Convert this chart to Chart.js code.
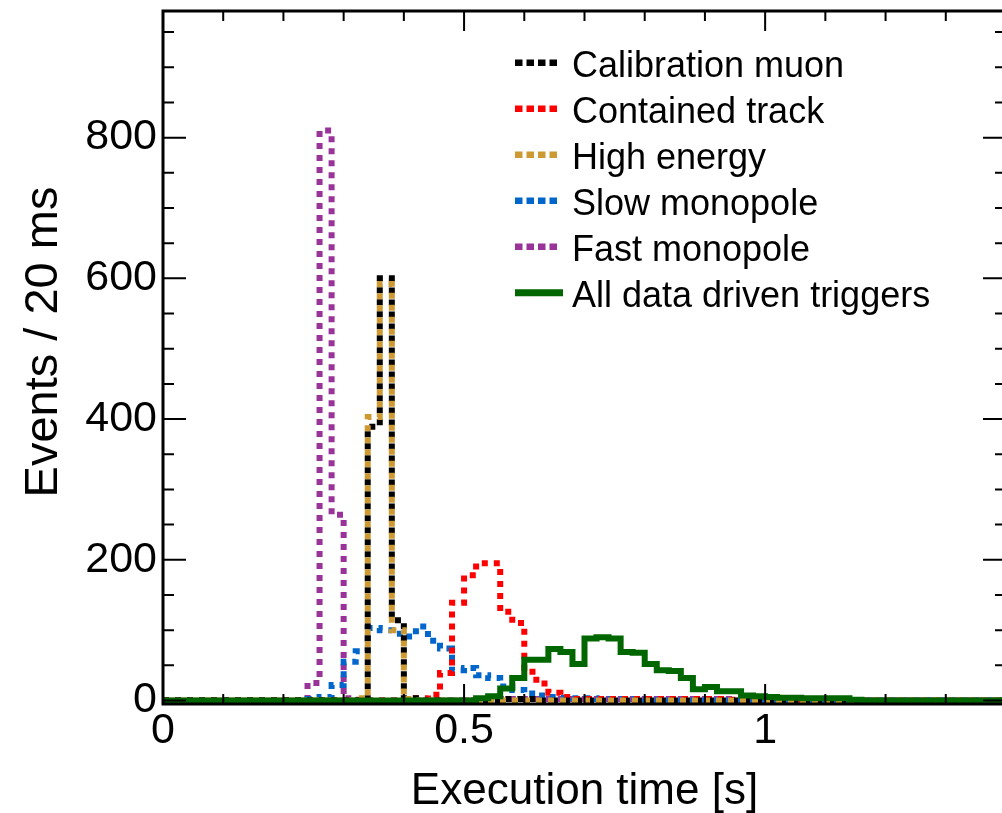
<!DOCTYPE html>
<html>
<head>
<meta charset="utf-8">
<script src="https://cdn.jsdelivr.net/npm/chart.js@4.4.0/dist/chart.umd.min.js"></script>
<style>
html,body{margin:0;padding:0;background:#fff;overflow:hidden;width:1002px;height:813px}
canvas{display:block}
</style>
</head>
<body>
<canvas id="c" width="1010" height="813" style="width:1010px;height:813px"></canvas>
<script>
// ---- data (20 ms bins, lower edges + final upper edge) ----
const binEdges = [
  0.00,0.02,0.04,0.06,0.08,0.10,0.12,0.14,0.16,0.18,
  0.20,0.22,0.24,0.26,0.28,0.30,0.32,0.34,0.36,0.38,
  0.40,0.42,0.44,0.46,0.48,0.50,0.52,0.54,0.56,0.58,
  0.60,0.62,0.64,0.66,0.68,0.70,0.72,0.74,0.76,0.78,
  0.80,0.82,0.84,0.86,0.88,0.90,0.92,0.94,0.96,0.98,
  1.00,1.02,1.04,1.06,1.08,1.10,1.12,1.14,1.16,1.18,
  1.20,1.22,1.24,1.26,1.28,1.30,1.32,1.34,1.36,1.38,
  1.40
];
const calibrationMuon = [
  0,0,0,0,0,0,0,0,0,0,
  0,0,0,0,0,0,0,389,600,114,
  3,0,0,0,0,0,0,0,2,2,
  2,0,0,0,0,0,0,0,0,0,
  0,0,0,0,0,0,0,0,0,0,
  0,0,0,0,0,0,0,0,0,0,
  0,0,0,0,0,0,0,0,0,0
];
const containedTrack = [
  0,0,0,0,0,0,0,0,0,0,
  0,0,0,0,0,0,0,0,0,0,
  0,3,8,39,139,178,195,195,126,110,
  41,24,11,5,2,2,2,2,2,2,
  2,2,2,2,2,2,2,1,1,1,
  1,1,1,0,0,0,0,0,0,0,
  0,0,0,0,0,0,0,0,0,0
];
const highEnergy = [
  0,0,0,0,0,0,0,0,0,0,
  0,0,0,0,0,0,3,403,592,100,
  2,0,0,0,0,0,0,0,0,0,
  0,0,0,0,0,0,0,0,0,0,
  0,0,0,0,0,0,0,0,0,0,
  0,0,0,0,0,0,0,0,0,0,
  0,0,0,0,0,0,0,0,0,0
];
const slowMonopole = [
  0,0,0,0,0,0,0,0,0,0,
  0,0,2,5,22,55,70,103,100,95,
  91,105,85,74,43,46,36,32,20,15,
  10,7,5,4,3,3,2,2,2,2,
  1,0,0,0,0,0,0,0,0,0,
  0,0,0,0,0,0,0,0,0,0,
  0,0,0,0,0,0,0,0,0,0
];
const fastMonopole = [
  0,0,0,0,0,0,0,0,0,0,
  0,0,25,810,264,3,1,0,0,0,
  0,0,0,0,0,0,0,0,2,2,
  2,2,2,2,2,2,2,2,2,2,
  2,2,2,2,2,2,2,0,0,0,
  0,0,0,0,0,0,0,0,0,0,
  0,0,0,0,0,0,0,0,0,0
];
const allTriggers = [
  0,0,0,0,0,0,0,0,0,0,
  0,0,0,0,0,0,0,0,0,0,
  0,0,0,0,0,0,3,6,17,32,
  58,58,73,69,52,88,90,88,69,68,
  52,43,42,32,16,19,13,13,7,6,
  5,4,4,3,3,3,3,1,0,0,
  0,0,0,0,0,0,0,0,0,0
];
const xTickLabels = [0, 0.5, 1];
const yTickLabels = [0, 200, 400, 600, 800];
const xTitle = 'Execution time [s]';
const yTitle = 'Events / 20 ms';

// ---- styles ----
const FONT = "'Liberation Sans', Arial, Helvetica, sans-serif";
const series = [
  {label:'Calibration muon',         values: calibrationMuon, color:'#000000', dash:[6,6], off:0, width:6, order:2},
  {label:'Contained track',          values: containedTrack,  color:'#ff0000', dash:[6,6], off:0, width:6, order:3},
  {label:'High energy',              values: highEnergy,      color:'#cc9933', dash:[6,6], off:6, width:6, order:1},
  {label:'Slow monopole',            values: slowMonopole,    color:'#0066cc', dash:[6,6], off:0, width:6, order:4},
  {label:'Fast monopole',            values: fastMonopole,    color:'#993399', dash:[6,6], off:0, width:6, order:5},
  {label:'All data driven triggers', values: allTriggers,     color:'#006600', dash:[],    off:0, width:6, order:0}
];

const framePlugin = {
  id: 'frame',
  afterDatasetsDraw(chart) {
    const {ctx, chartArea: a, scales} = chart;
    const x = scales.x, y = scales.y;
    ctx.save();
    ctx.strokeStyle = '#000';
    ctx.setLineDash([]);
    ctx.lineCap = 'butt';
    ctx.lineWidth = 2;
    ctx.beginPath();
    for (let k = 0; k <= 14; k++) {
      const v = k / 10;
      const px = x.getPixelForValue(v);
      const major = xTickLabels.some(t => Math.abs(t - v) < 1e-9);
      const len = major ? 20 : 10;
      ctx.moveTo(px, a.bottom); ctx.lineTo(px, a.bottom - len);
      ctx.moveTo(px, a.top); ctx.lineTo(px, a.top + len);
    }
    for (let v = 0; v <= 950; v += 50) {
      const py = y.getPixelForValue(v);
      const major = yTickLabels.includes(v);
      const len = major ? 23 : 11;
      ctx.moveTo(a.left, py); ctx.lineTo(a.left + len, py);
      ctx.moveTo(a.right, py); ctx.lineTo(a.right - len, py);
    }
    ctx.stroke();
    ctx.lineWidth = 3;
    ctx.strokeRect(a.left, a.top, a.right - a.left, a.bottom - a.top);
    ctx.restore();
  }
};

const textPlugin = {
  id: 'texts',
  afterDraw(chart) {
    const ctx = chart.ctx;
    ctx.save();
    // y axis title
    ctx.save();
    ctx.translate(57, 342);
    ctx.rotate(-Math.PI / 2);
    ctx.fillStyle = '#000';
    ctx.font = '47px ' + FONT;
    ctx.textAlign = 'center';
    ctx.textBaseline = 'alphabetic';
    ctx.fillText(yTitle, 0, 0);
    ctx.restore();
    // legend
    chart.data.datasets.forEach((ds, k) => {
      const yb = 76.7 + k * 46;
      const ym = yb - 14;
      const dotted = ds.borderDash && ds.borderDash.length;
      ctx.beginPath();
      ctx.strokeStyle = ds.borderColor;
      ctx.lineWidth = dotted ? 6.5 : 7;
      ctx.lineCap = 'butt';
      ctx.setLineDash(dotted ? [7.5, 4] : []);
      ctx.moveTo(515, ym);
      ctx.lineTo(dotted ? 557 : 563, ym);
      ctx.stroke();
      ctx.setLineDash([]);
      ctx.fillStyle = '#000';
      ctx.font = '36px ' + FONT;
      ctx.textAlign = 'left';
      ctx.textBaseline = 'alphabetic';
      ctx.fillText(ds.label, 572, yb);
    });
    ctx.restore();
  }
};

Chart.defaults.font.family = FONT;
Chart.defaults.color = '#000';

new Chart(document.getElementById('c').getContext('2d'), {
  type: 'line',
  data: {
    datasets: series.map(s => ({
      label: s.label,
      data: binEdges.map((e, i) => ({x: e, y: s.values[Math.min(i, s.values.length - 1)]})),
      stepped: 'before',
      borderColor: s.color,
      backgroundColor: s.color,
      borderWidth: s.width,
      borderDash: s.dash,
      borderDashOffset: s.off,
      borderCapStyle: 'butt',
      borderJoinStyle: 'miter',
      pointRadius: 0,
      fill: false,
      order: s.order
    }))
  },
  options: {
    responsive: false,
    animation: false,
    devicePixelRatio: 1,
    layout: {padding: {top: 11, right: 4, left: 0, bottom: 0}},
    plugins: {legend: {display: false}, tooltip: {enabled: false}},
    scales: {
      x: {
        type: 'linear', min: 0, max: 1.4,
        grid: {display: false, drawTicks: false},
        border: {display: false},
        afterFit(s) { s.height = 109; s.paddingLeft = 0; s.paddingRight = 0; },
        afterBuildTicks(s) { s.ticks = xTickLabels.map(v => ({value: v})); },
        ticks: {autoSkip: false, maxRotation: 0, minRotation: 0, padding: 1, color: '#000',
                font: {family: FONT, size: 43}, callback: v => String(v)},
        title: {display: true, text: xTitle, color: '#000',
                font: {family: FONT, size: 44, lineHeight: 0.95}, padding: {top: 0, bottom: 0}}
      },
      y: {
        type: 'linear', min: -5, max: 980,
        grid: {display: false, drawTicks: false},
        border: {display: false},
        afterFit(s) { s.width = 163; s.paddingTop = 0; s.paddingBottom = 0; },
        afterBuildTicks(s) { s.ticks = yTickLabels.map(v => ({value: v})); },
        ticks: {autoSkip: false, padding: 6, color: '#000',
                font: {family: FONT, size: 43}, callback: v => String(v)},
        title: {display: false}
      }
    }
  },
  plugins: [framePlugin, textPlugin]
});
</script>
</body>
</html>
